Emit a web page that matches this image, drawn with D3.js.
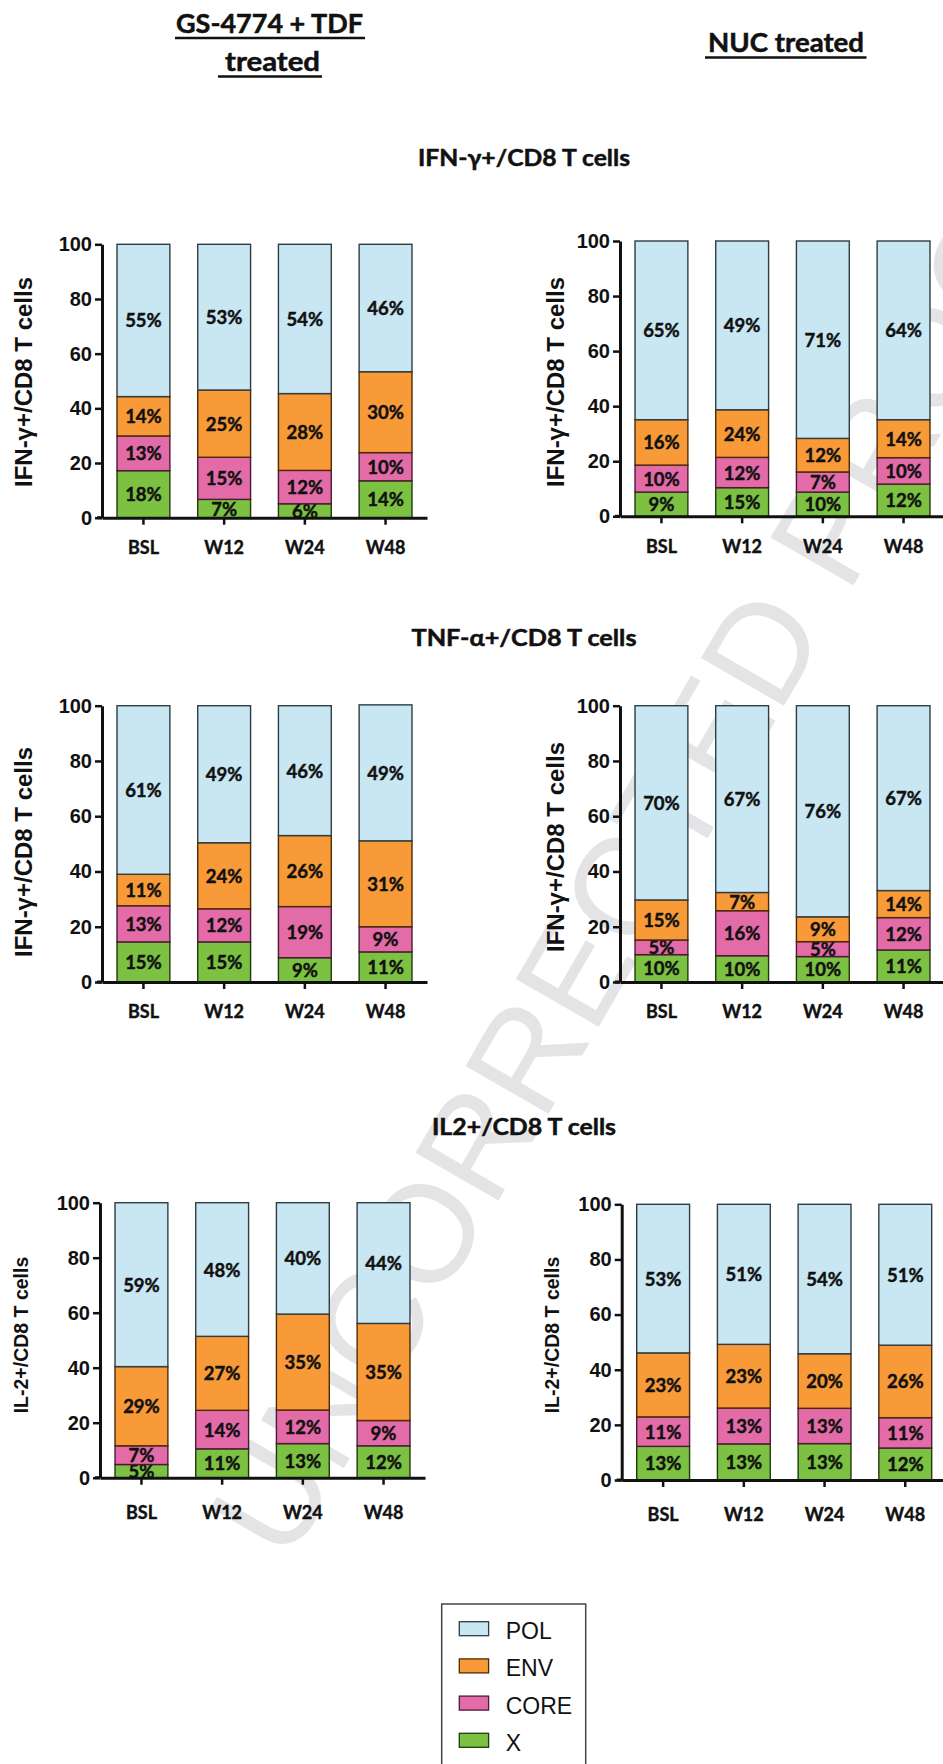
<!DOCTYPE html>
<html>
<head>
<meta charset="utf-8">
<script src="https://cdn.jsdelivr.net/npm/d3@7"></script>
<style>
  body { margin:0; background:#fff; }
  .pct { font-family: Lato, "Open Sans", sans-serif; font-weight:700; font-size:18.5px; fill:#111; stroke:#111; stroke-width:0.45px; }
  .xt text { font-family: Lato, sans-serif; font-weight:700; font-size:18px; fill:#111; stroke:#111; stroke-width:0.4px; }
  .yt text { font-family: "Liberation Sans", Arial, sans-serif; font-weight:700; font-size:20px; fill:#111; }
  .head { font-family: Lato, sans-serif; font-weight:700; fill:#111; stroke:#111; stroke-width:0.5px; }
</style>
</head>
<body>
<script>
var W = 943, H = 1764;

// categories and series
var categories = ["BSL","W12","W24","W48"];
var series = ["X","CORE","ENV","POL"];
var colors = {POL:"#c8e7f2", ENV:"#f79a37", CORE:"#e36ba7", X:"#7cc142"};
var strokes = {POL:"#2f3d44", ENV:"#4d2a06", CORE:"#4d1a36", X:"#1f3b0e"};
var yTicks = [0,20,40,60,80,100];

// segment heights as drawn (X, CORE, ENV, POL)
var ifnGsHeights  = [[17.2,6.7,5.1,13.5],[12.7,15.4,12.2,10.3],[14.4,24.6,28.1,29.6],[55.7,53.3,54.6,46.6]];
var ifnNucHeights = [[8.8,10.4,8.8,11.7],[9.8,11.0,7.3,9.6],[16.5,17.3,12.2,13.8],[64.9,61.3,71.7,64.9]];
var tnfGsHeights  = [[14.5,14.5,8.8,10.9],[13.1,12.0,18.5,9.1],[11.4,23.9,25.7,31.1],[61.0,49.6,47.0,49.2]];
var tnfNucHeights = [[9.9,9.5,9.2,11.6],[5.3,16.3,5.4,11.7],[14.5,6.6,9.0,9.8],[70.3,67.6,76.4,66.9]];
var il2GsHeights  = [[4.8,10.5,12.4,11.6],[6.8,14.0,12.2,9.2],[28.8,26.9,34.9,35.3],[59.6,48.6,40.5,43.9]];
var il2NucHeights = [[12.2,13.1,13.2,11.6],[10.7,13.0,12.8,11.0],[23.2,23.1,19.8,26.3],[53.9,50.8,54.2,51.1]];

// printed percentages (X, CORE, ENV, POL)
var ifnGsLabels  = [[18,7,6,14],[13,15,12,10],[14,25,28,30],[55,53,54,46]];
var ifnNucLabels = [[9,15,10,12],[10,12,7,10],[16,24,12,14],[65,49,71,64]];
var tnfGsLabels  = [[15,15,9,11],[13,12,19,9],[11,24,26,31],[61,49,46,49]];
var tnfNucLabels = [[10,10,10,11],[5,16,5,12],[15,7,9,14],[70,67,76,67]];
var il2GsLabels  = [[5,11,13,12],[7,14,12,9],[29,27,35,35],[59,48,40,44]];
var il2NucLabels = [[13,13,13,12],[11,13,13,11],[23,23,20,26],[53,51,54,51]];

var svg = d3.select("body").append("svg").attr("width",W).attr("height",H);

// faint proof watermark, behind the charts
svg.append("text")
  .attr("transform","translate(288,1565) rotate(-60)")
  .attr("style","font-family:'Liberation Sans',Arial,sans-serif;font-size:139px;fill:#e4e4e6;")
  .text("UNCORRECTED PROOF");

// column headers
function header(txt, cx, base, size, len, ux0, ux1, uy) {
  svg.append("text").attr("class","head")
    .attr("x",cx).attr("y",base).attr("text-anchor","middle")
    .attr("font-size",size).attr("textLength",len).attr("lengthAdjust","spacingAndGlyphs")
    .text(txt);
  svg.append("line").attr("x1",ux0).attr("x2",ux1).attr("y1",uy).attr("y2",uy)
    .attr("stroke","#111").attr("stroke-width",2.5);
}
header("GS-4774 + TDF", 269.5, 33, 26, 187, 175, 365, 38);
header("treated", 272.5, 70.5, 26, 95, 218, 322, 76.5);
header("NUC treated", 786, 52, 26, 156, 705, 866.5, 57.5);

// row titles
[["IFN-γ+/CD8 T cells",157,212],["TNF-α+/CD8 T cells",637,225],["IL2+/CD8 T cells",1126,184]].forEach(function(t){
  svg.append("text").attr("class","head")
    .attr("x",524).attr("y",t[1]).attr("text-anchor","middle")
    .attr("dominant-baseline","central").attr("font-size",23)
    .attr("textLength",t[2]).attr("lengthAdjust","spacingAndGlyphs").text(t[0]);
});

var panels = [
  {h:ifnGsHeights,  l:ifnGsLabels,  ax:102,   top:244.3,  bot:517.7,  ylab:"IFN-γ+/CD8 T cells", lx:23,  ly:382, ls:24,   pad:24},
  {h:ifnNucHeights, l:ifnNucLabels, ax:620,   top:241,    bot:516.3,  ylab:"IFN-γ+/CD8 T cells", lx:555, ly:382, ls:24,   pad:24},
  {h:tnfGsHeights,  l:tnfGsLabels,  ax:102,   top:705.7,  bot:982,    ylab:"IFN-γ+/CD8 T cells", lx:23,  ly:852, ls:24,   pad:24},
  {h:tnfNucHeights, l:tnfNucLabels, ax:620,   top:705.7,  bot:982,    ylab:"IFN-γ+/CD8 T cells", lx:555, ly:847, ls:24,   pad:24},
  {h:il2GsHeights,  l:il2GsLabels,  ax:100,   top:1202.7, bot:1477.7, ylab:"IL-2+/CD8 T cells",  lx:21,  ly:1335, ls:19.5, pad:29},
  {h:il2NucHeights, l:il2NucLabels, ax:621.7, top:1204.3, bot:1480,   ylab:"IL-2+/CD8 T cells",  lx:552, ly:1335, ls:19.5, pad:29}
];

panels.forEach(function(p){
  var g = svg.append("g");
  var x = d3.scaleBand().domain(categories).range([p.ax, p.ax+325]).paddingInner(0.345).paddingOuter(0.186);
  var y = d3.scaleLinear().domain([0,100]).range([p.bot, p.top]);

  var rows = categories.map(function(c,i){
    var r = {cat:c};
    series.forEach(function(s,k){ r[s] = p.h[k][i]; r[s+"_lab"] = p.l[k][i]; });
    return r;
  });
  var stacked = d3.stack().keys(series)(rows);

  var layer = g.selectAll(".layer").data(stacked).enter().append("g");
  layer.selectAll("rect").data(function(d){ return d.map(function(v){ v.key = d.key; return v; }); })
    .enter().append("rect")
    .attr("x", function(d){ return x(d.data.cat); })
    .attr("y", function(d){ return y(d[1]); })
    .attr("width", x.bandwidth())
    .attr("height", function(d){ return y(d[0]) - y(d[1]); })
    .attr("fill", function(d){ return colors[d.key]; })
    .attr("stroke", function(d){ return strokes[d.key]; })
    .attr("stroke-width", 1.4);

  layer.selectAll("text").data(function(d){ return d; })
    .enter().append("text").attr("class","pct")
    .attr("x", function(d){ return x(d.data.cat) + x.bandwidth()/2; })
    .attr("y", function(d){ return y((d[0]+d[1])/2); })
    .attr("text-anchor","middle").attr("dominant-baseline","central")
    .text(function(d){ return d.data[d.key+"_lab"] + "%"; });

  // axes
  var ya = g.append("g").attr("class","yt").attr("transform","translate("+p.ax+",0)")
    .call(d3.axisLeft(y).tickValues(yTicks).tickSize(7).tickSizeOuter(0).tickPadding(3));
  var xa = g.append("g").attr("class","xt").attr("transform","translate(0,"+p.bot+")")
    .call(d3.axisBottom(x).tickSize(7).tickSizeOuter(0).tickPadding(p.pad));
  [ya, xa].forEach(function(a){
    a.select(".domain").attr("stroke","#111").attr("stroke-width",3);
    a.selectAll(".tick line").attr("stroke","#111").attr("stroke-width",2.5);
  });
  xa.selectAll(".tick text").attr("dy","0.35em").attr("y", p.pad+6);
  // axis corner
  g.append("line").attr("x1",p.ax-5).attr("x2",p.ax).attr("y1",p.bot).attr("y2",p.bot)
    .attr("stroke","#111").attr("stroke-width",3);

  g.append("text")
    .attr("transform","translate("+p.lx+","+p.ly+") rotate(-90)")
    .attr("text-anchor","middle").attr("dominant-baseline","central")
    .attr("style","font-family:'Liberation Sans',Arial,sans-serif;font-weight:700;font-size:"+p.ls+"px;fill:#111;")
    .text(p.ylab);
});

// legend
var legendKeys = ["POL","ENV","CORE","X"];
var ly = d3.scalePoint().domain(legendKeys).range([1621.7,1733.3]);
svg.append("rect").attr("x",441.7).attr("y",1604).attr("width",144).attr("height",180)
  .attr("fill","#fff").attr("stroke","#444").attr("stroke-width",1.5);
var li = svg.selectAll(".leg").data(legendKeys).enter().append("g");
li.append("rect").attr("x",459.3).attr("y",function(d){ return ly(d); })
  .attr("width",29.3).attr("height",14)
  .attr("fill",function(d){ return colors[d]; }).attr("stroke",function(d){ return strokes[d]; }).attr("stroke-width",1.3);
li.append("text").attr("x",505.7).attr("y",function(d){ return ly(d)+17.5; })
  .attr("style","font-family:'Liberation Sans',Arial,sans-serif;font-size:23px;fill:#111;")
  .text(function(d){ return d; });
</script>
</body>
</html>
